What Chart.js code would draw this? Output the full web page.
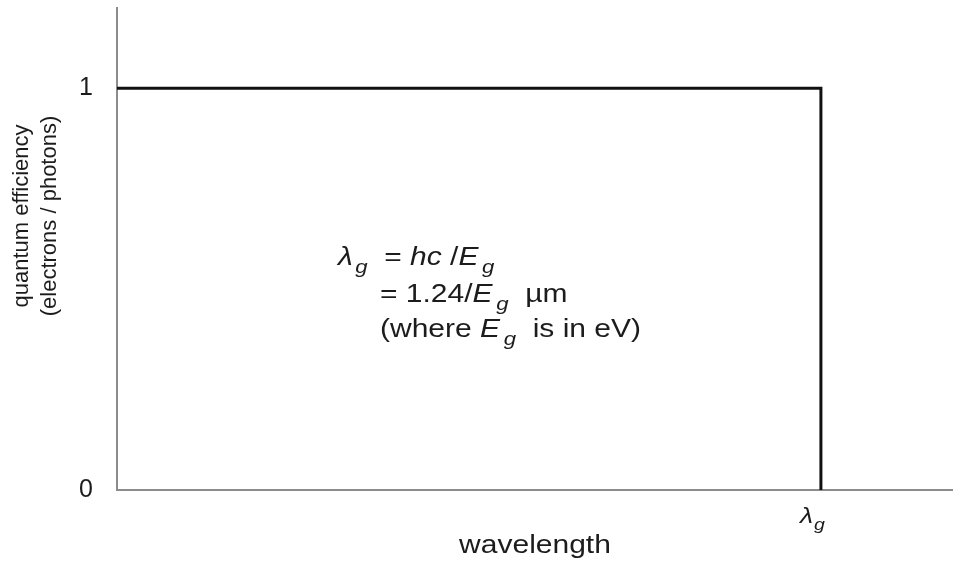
<!DOCTYPE html>
<html>
<head>
<meta charset="utf-8">
<script src="https://cdn.jsdelivr.net/npm/chart.js@4/dist/chart.umd.min.js"></script>
<style>
  html, body { margin: 0; padding: 0; background: #ffffff; }
  #wrap { width: 953px; height: 564px; }
</style>
</head>
<body>
<div id="wrap"><canvas id="qe" width="953" height="564"></canvas></div>
<script>
// Ideal photodetector response: efficiency 1 up to the cutoff wavelength, then 0.
const cutoffWavelength = 0.842;            // λg, in units of the axis span
const wavelength = [0, 0.842, 0.842];       // x values of the step outline
const quantumEfficiency = [1, 1, 0];        // y values of the step outline
const yTickValues = [0, 1];
const yTickLabels = ['0', '1'];
const xTitle = 'wavelength';
const yTitleLines = ['quantum efficiency', '(electrons / photons)'];

const FONT = '"Liberation Sans", Arial, sans-serif';
const INK = '#1c1c1c';
const AXIS = '#8c8c8c';
const STRETCH = 1.2;   // horizontal text is set slightly wide

// Draws a run of text pieces (plain, italic, subscript) starting at x, baseline y.
function drawRuns(ctx, x, y, runs, size) {
  ctx.save();
  ctx.translate(x, y);
  ctx.scale(STRETCH, 1);
  ctx.fillStyle = INK;
  ctx.textBaseline = 'alphabetic';
  ctx.textAlign = 'left';
  let cx = 0;
  runs.forEach(r => {
    const s = r.sub ? size * 0.74 : size;
    ctx.font = (r.italic ? 'italic ' : '') + s + 'px ' + FONT;
    const dy = r.sub ? size * 0.3 : 0;
    cx += (r.gap || 0);
    ctx.fillText(r.t, cx, dy);
    cx += ctx.measureText(r.t).width;
  });
  ctx.restore();
}

const textPlugin = {
  id: 'qeText',
  afterDraw(chart) {
    const ctx = chart.ctx;
    const area = chart.chartArea;
    const xs = chart.scales.x;

    // x axis label at the cutoff wavelength: λg
    const px = xs.getPixelForValue(cutoffWavelength);
    drawRuns(ctx, px - 21, area.bottom + 33, [
      { t: 'λ', italic: true },
      { t: 'g', italic: true, sub: true, gap: 1 }
    ], 22);

    // x axis title
    ctx.save();
    ctx.font = '25px ' + FONT;
    ctx.fillStyle = INK;
    ctx.textAlign = 'center';
    ctx.textBaseline = 'alphabetic';
    ctx.translate((area.left + area.right) / 2, area.bottom + 63);
    ctx.scale(STRETCH, 1);
    ctx.fillText(xTitle, 0, 0);
    ctx.restore();

    // y axis title, two lines, rotated
    ctx.save();
    ctx.font = '22px ' + FONT;
    ctx.fillStyle = INK;
    ctx.textAlign = 'center';
    ctx.textBaseline = 'middle';
    yTitleLines.forEach((line, i) => {
      ctx.save();
      ctx.translate(22 + i * 28, 216);
      ctx.rotate(-Math.PI / 2);
      ctx.fillText(line, 0, 0);
      ctx.restore();
    });
    ctx.restore();

    // cutoff relation
    const x0 = area.left + 221;
    const x1 = area.left + 263;
    const top = area.top;
    drawRuns(ctx, x0, top + 257, [
      { t: 'λ', italic: true },
      { t: 'g', italic: true, sub: true, gap: 2 },
      { t: '  = ' },
      { t: 'hc', italic: true },
      { t: ' /' },
      { t: 'E', italic: true },
      { t: 'g', italic: true, sub: true, gap: 3 }
    ], 25);
    drawRuns(ctx, x1, top + 294, [
      { t: '= 1.24/' },
      { t: 'E', italic: true },
      { t: 'g', italic: true, sub: true, gap: 3 },
      { t: '  µm' }
    ], 25);
    drawRuns(ctx, x1, top + 329, [
      { t: '(where ' },
      { t: 'E', italic: true },
      { t: 'g', italic: true, sub: true, gap: 3 },
      { t: '  is in eV)' }
    ], 25);
  }
};

const points = wavelength.map((w, i) => ({ x: w, y: quantumEfficiency[i] }));

new Chart(document.getElementById('qe'), {
  type: 'line',
  data: {
    datasets: [{
      data: points,
      borderColor: '#111111',
      borderWidth: 3,
      pointRadius: 0,
      fill: false,
      tension: 0,
      borderJoinStyle: 'miter'
    }]
  },
  options: {
    responsive: false,
    animation: false,
    events: [],
    layout: { padding: { top: 8, right: 0, bottom: 0, left: 0 } },
    plugins: { legend: { display: false }, tooltip: { enabled: false } },
    scales: {
      x: {
        type: 'linear',
        min: 0,
        max: 1,
        grid: { display: false, drawTicks: false },
        border: { display: true, color: AXIS, width: 2 },
        ticks: { display: false },
        afterFit(scale) {
          scale.height = 74;
          scale.paddingLeft = 0; scale.paddingRight = 0;
        }
      },
      y: {
        type: 'linear',
        min: 0,
        max: 1.2,
        grid: { display: false, drawTicks: false },
        border: { display: true, color: AXIS, width: 2 },
        afterBuildTicks(scale) { scale.ticks = yTickValues.map(v => ({ value: v })); },
        ticks: {
          padding: 24,
          color: INK,
          font: { family: FONT, size: 25 },
          callback(value) {
            const i = yTickValues.indexOf(value);
            return i >= 0 ? yTickLabels[i] : '';
          }
        },
        afterFit(scale) {
          scale.width = 117;
          scale.paddingTop = 0; scale.paddingBottom = 0;
        }
      }
    }
  },
  plugins: [textPlugin]
});
</script>
</body>
</html>
